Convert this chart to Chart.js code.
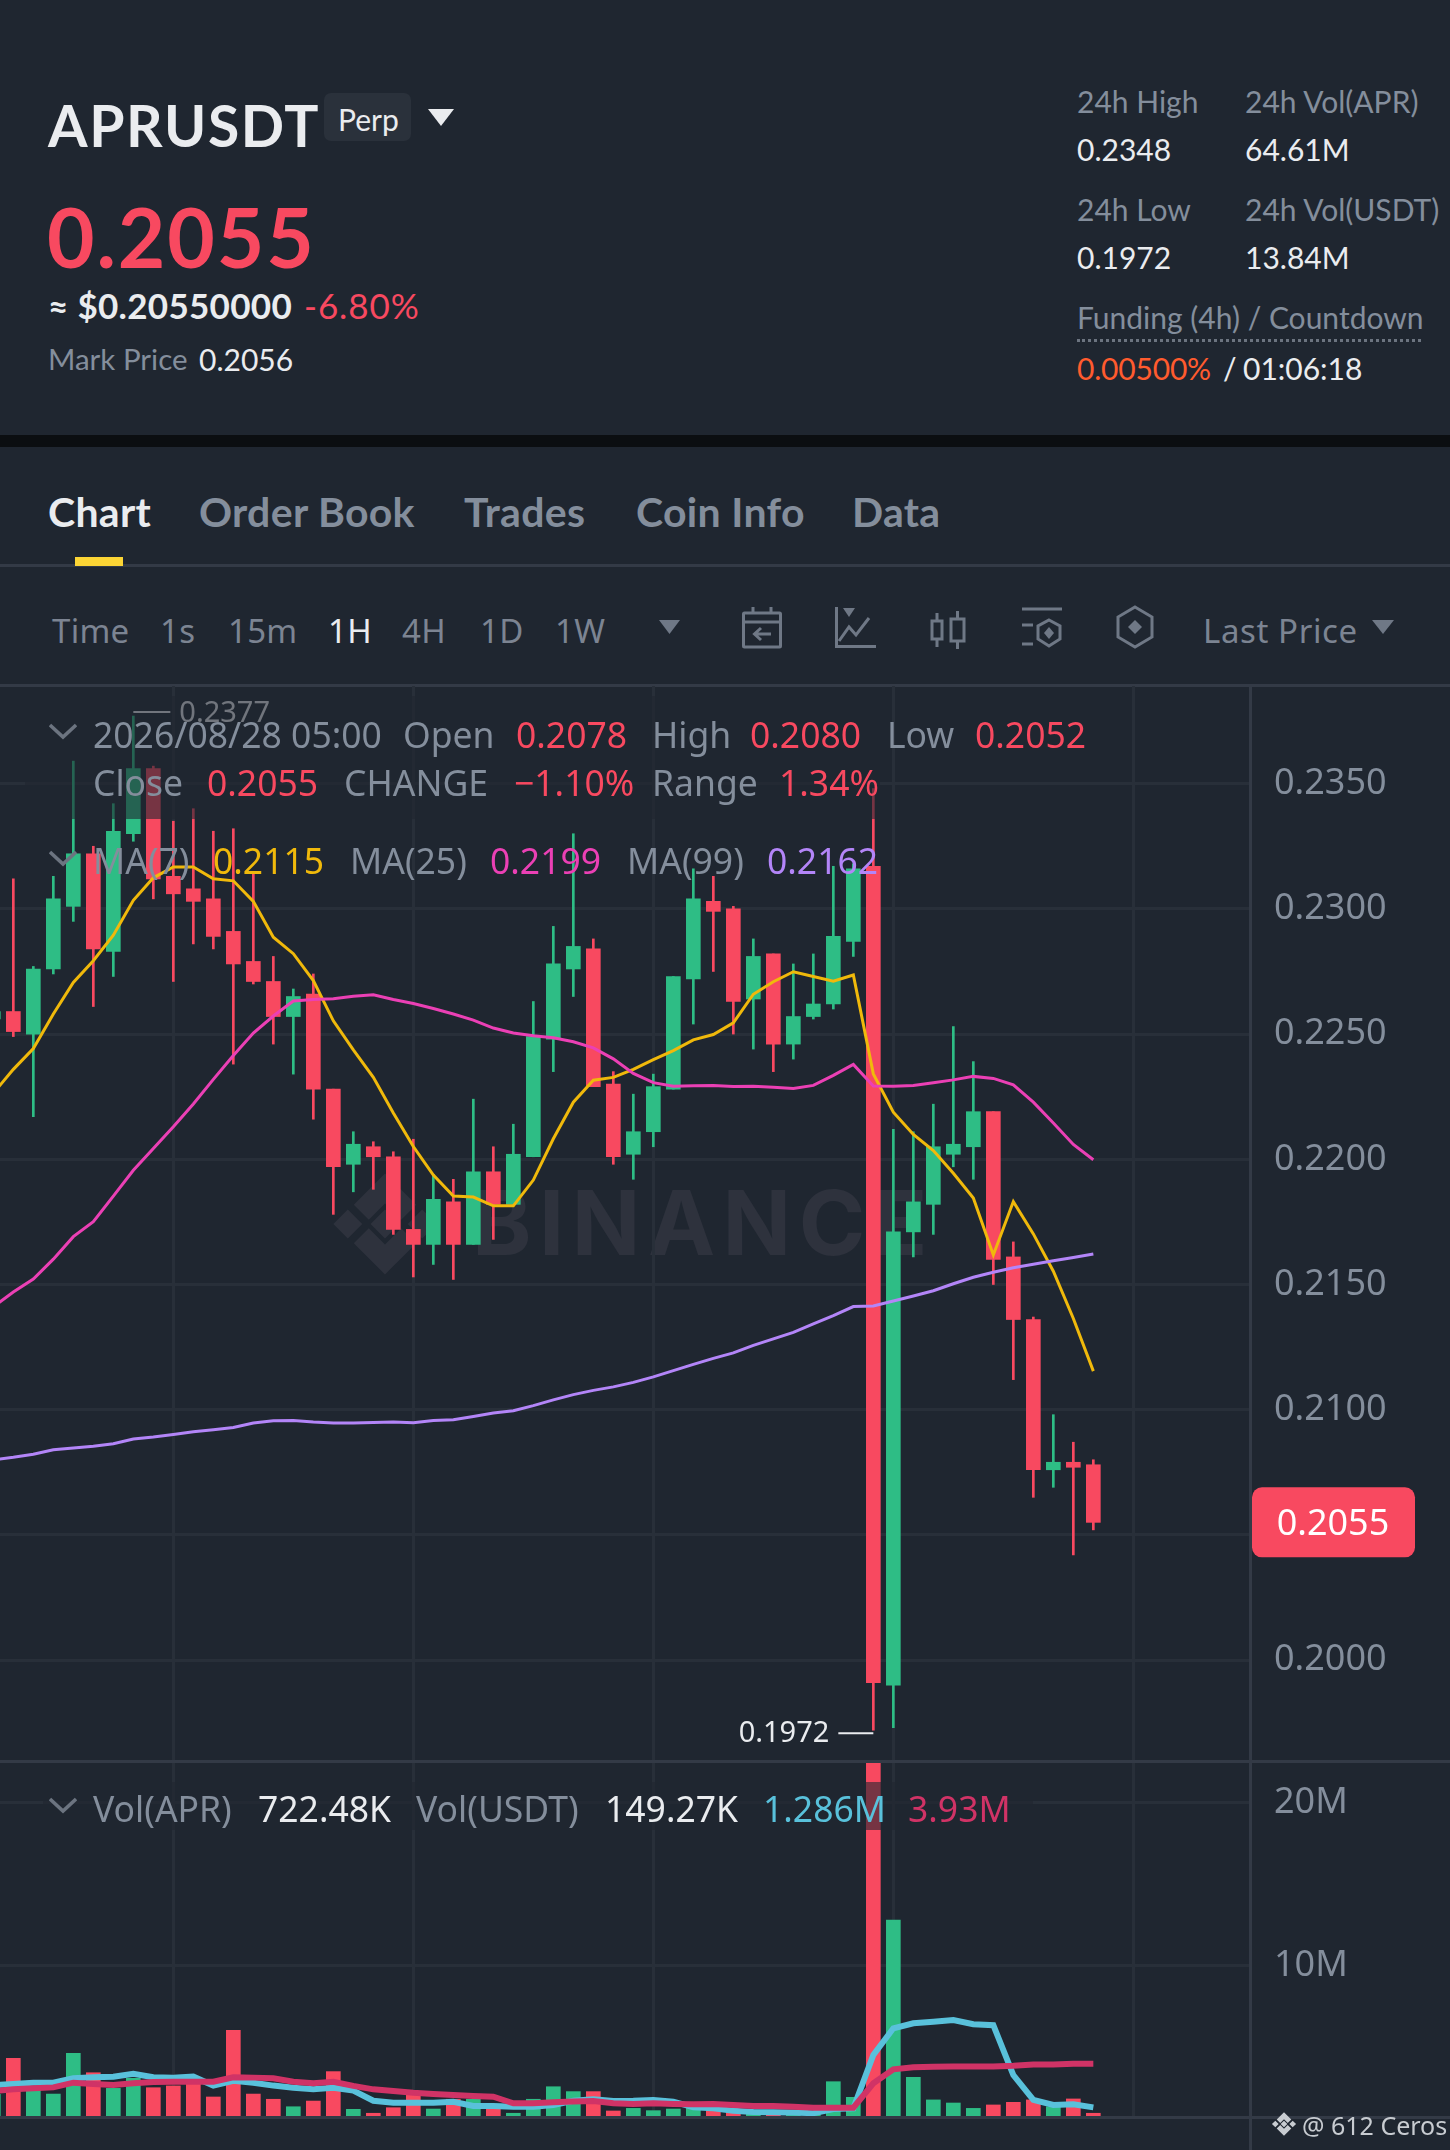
<!DOCTYPE html>
<html>
<head>
<meta charset="utf-8">
<title>APRUSDT Perp</title>
<script src="https://cdn.jsdelivr.net/npm/chart.js@4"></script>
<style>
  html, body { margin: 0; padding: 0; background: #1f2630; }
  #page { position: relative; width: 1450px; height: 2150px; overflow: hidden; background: #1f2630; font-family: "Noto Sans", sans-serif; color: #848e9c; }
  #page > * { position: absolute; }
  canvas { display: block; left: 0; }
  .t { transform: translateY(-50%); white-space: nowrap; line-height: 1; }
  .hd { font-family: Lato, sans-serif; }
  .bar { left: 0; width: 1450px; background: #333a46; }
  .tb { font-size: 33px; top: 630px; color: #7c8492; letter-spacing: 0.3px; }
  .tab { font-family: Lato, sans-serif; font-size: 41px; top: 511px; color: #848e9c; font-weight: 700; letter-spacing: 0.3px; }
  .lg { font-size: 35.5px; color: #848e9c; z-index: 5; }
  .sm { font-size: 30px; }
  .band { background: rgba(31, 38, 48, 0.6); z-index: 4; }
  .chev { z-index: 5; }
  .wm { color: #2e323d; }
  #page .w { color: #eaecef; }
  #page .r { color: #f84960; }
</style>
</head>
<body>
<div id="page">
  <!-- header -->
  <span class="t hd w" style="left:48px;top:125px;font-size:57px;font-weight:700;letter-spacing:1.6px">APRUSDT</span>
  <div style="left:324px;top:93px;width:87px;height:48px;background:#2a313b;border-radius:7px"></div>
  <span class="t hd w" style="left:338px;top:119px;font-size:30px">Perp</span>
  <svg style="left:428px;top:109px" width="26" height="17"><path d="M0 0H26L13 17Z" fill="#eaecef"/></svg>
  <span class="t hd r" style="left:47px;top:236px;font-size:82px;font-weight:700;letter-spacing:1.9px">0.2055</span>
  <span class="t hd w" style="left:48px;top:305px;font-size:35px;font-weight:700;letter-spacing:0.3px">≈ $0.20550000</span>
  <span class="t hd r" style="left:304px;top:305px;font-size:35px;letter-spacing:0.9px">-6.80%</span>
  <span class="t hd" style="left:48px;top:359px;font-size:29.500px">Mark Price</span>
  <span class="t hd w" style="left:199px;top:359px;font-size:30px">0.2056</span>

  <span class="t hd sm" style="left:1077px;top:101px">24h High</span>
  <span class="t hd sm w" style="left:1077px;top:149px">0.2348</span>
  <span class="t hd sm" style="left:1245px;top:101px">24h Vol(APR)</span>
  <span class="t hd sm w" style="left:1245px;top:149px">64.61M</span>
  <span class="t hd sm" style="left:1077px;top:209px">24h Low</span>
  <span class="t hd sm w" style="left:1077px;top:257px">0.1972</span>
  <span class="t hd sm" style="left:1245px;top:209px">24h Vol(USDT)</span>
  <span class="t hd sm w" style="left:1245px;top:257px">13.84M</span>
  <span class="t hd sm" style="left:1077px;top:317px">Funding (4h) / Countdown</span>
  <div style="left:1077px;top:339px;width:344px;border-top:3px dotted #6c7480"></div>
  <span class="t hd sm" style="left:1077px;top:368px;color:#ff5b2e;letter-spacing:-0.2px">0.00500%</span>
  <span class="t hd sm w" style="left:1223px;top:368px">/</span>
  <span class="t hd sm w" style="left:1243px;top:368px">01:06:18</span>

  <div style="left:0;top:435px;width:1450px;height:12px;background:#0b0e11"></div>

  <!-- tabs -->
  <span class="t tab w" style="left:48px">Chart</span>
  <span class="t tab" style="left:199px">Order Book</span>
  <span class="t tab" style="left:464px">Trades</span>
  <span class="t tab" style="left:636px">Coin Info</span>
  <span class="t tab" style="left:852px">Data</span>
  <div style="left:75px;top:557px;width:48px;height:9px;background:#fcd535;z-index:2"></div>
  <div class="bar" style="top:564px;height:3px"></div>

  <!-- toolbar -->
  <span class="t tb" style="left:52px">Time</span>
  <span class="t tb" style="left:160px">1s</span>
  <span class="t tb" style="left:228px">15m</span>
  <span class="t tb w" style="left:328px">1H</span>
  <span class="t tb" style="left:402px">4H</span>
  <span class="t tb" style="left:480px">1D</span>
  <span class="t tb" style="left:555px">1W</span>
  <svg style="left:659px;top:620px" width="21" height="14"><path d="M0 0H21L10.500 14Z" fill="#6f7886"/></svg>
  <svg style="left:740px;top:605px" width="44" height="44" fill="none" stroke="#6f7886" stroke-width="3"><rect x="3.500" y="8" width="37" height="34" rx="1"/><path d="M3 17H41M13 2V8M31 2V8M31 29H15M21 23L14.500 29L21 35"/></svg>
  <svg style="left:833px;top:605px" width="44" height="44" fill="none" stroke="#6f7886" stroke-width="3"><path d="M3.500 2V41.500H43M6 36L16 22L23 30L36 13"/><path d="M10 3H22L16 12Z" fill="#6f7886" stroke="none"/></svg>
  <svg style="left:929px;top:610px" width="38" height="40" fill="none" stroke="#6f7886" stroke-width="3"><rect x="3" y="11" width="10" height="18"/><rect x="22" y="9" width="13" height="22"/><path d="M8 3V11M8 29V37M28.500 1V9M28.500 31V39"/></svg>
  <svg style="left:1020px;top:605px" width="44" height="44" fill="none" stroke="#6f7886" stroke-width="3"><path d="M2 4H42M2 20H13M2 39H13"/><path d="M29 15L40 21V34L29 41L18 34V21Z"/><path d="M29 22L34 28L29 34L24 28Z" fill="#6f7886" stroke="none"/></svg>
  <svg style="left:1113px;top:605px" width="44" height="44" fill="none" stroke="#6f7886" stroke-width="3"><path d="M22 2L39 12V32L22 42L5 32V12Z"/><path d="M22 15L29 22L22 29L15 22Z" fill="#6f7886" stroke="none"/></svg>
  <span class="t tb" style="left:1203px;letter-spacing:0.6px">Last Price</span>
  <svg style="left:1372px;top:620px" width="22" height="14"><path d="M0 0H22L11 14Z" fill="#6f7886"/></svg>
  <div class="bar" style="top:684px;height:3px"></div>

  <!-- watermark sits under the charts -->
  <svg class="wm" style="left:325px;top:1164px" width="120" height="120" viewBox="0 0 100 100" fill="#2e323d"><path d="M50 38L62 50L50 62L38 50ZM19 38L31 50L19 62L7 50ZM81 38L93 50L81 62L69 50ZM24 34L50 8L76 34L63.500 46.500L50 33L36.500 46.500ZM24 66L50 92L76 66L63.500 53.500L50 67L36.500 53.500Z"/></svg>
  <span class="t wm" style="left:472px;top:1223px;font-family:Inter,sans-serif;font-weight:700;font-size:90px;letter-spacing:7.5px">BINANCE</span>

  <canvas id="priceChart" width="1450" height="1075" style="top:686px"></canvas>
  <canvas id="volChart" width="1450" height="356" style="top:1761px"></canvas>

  <div class="bar" style="top:1760px;height:3px;z-index:3"></div>
  <div class="bar" style="top:2116px;height:3px;z-index:3"></div>
  <div style="left:1249px;top:686px;width:3px;height:1464px;background:#333a46;z-index:3"></div>

  <!-- legend rows -->
  <div class="band" style="left:25px;top:696px;width:855px;height:123px"></div>
  <div class="band" style="left:43px;top:1782px;width:990px;height:48px"></div>

  <svg class="chev" style="left:49px;top:723px" width="28" height="17" fill="none" stroke="#6c7480" stroke-width="3.500"><path d="M1 2L14 14L27 2"/></svg>
  <span class="t lg" style="left:93px;top:735px">2026/08/28 05:00</span>
  <span class="t lg" style="left:403px;top:735px">Open</span>
  <span class="t lg r" style="left:516px;top:735px">0.2078</span>
  <span class="t lg" style="left:652px;top:735px">High</span>
  <span class="t lg r" style="left:750px;top:735px">0.2080</span>
  <span class="t lg" style="left:887px;top:735px">Low</span>
  <span class="t lg r" style="left:975px;top:735px">0.2052</span>

  <span class="t lg" style="left:93px;top:783px">Close</span>
  <span class="t lg r" style="left:207px;top:783px">0.2055</span>
  <span class="t lg" style="left:344px;top:783px">CHANGE</span>
  <span class="t lg r" style="left:514px;top:783px">−1.10%</span>
  <span class="t lg" style="left:652px;top:783px">Range</span>
  <span class="t lg r" style="left:779px;top:783px">1.34%</span>

  <svg class="chev" style="left:49px;top:850px" width="28" height="17" fill="none" stroke="#6c7480" stroke-width="3.500"><path d="M1 2L14 14L27 2"/></svg>
  <span class="t lg" style="left:93px;top:861px">MA(7)</span>
  <span class="t lg" style="left:213px;top:861px;color:#f0b90b">0.2115</span>
  <span class="t lg" style="left:350px;top:861px">MA(25)</span>
  <span class="t lg" style="left:490px;top:861px;color:#eb40b5">0.2199</span>
  <span class="t lg" style="left:627px;top:861px">MA(99)</span>
  <span class="t lg" style="left:767px;top:861px;color:#b385f8">0.2162</span>

  <svg class="chev" style="left:49px;top:1797px" width="28" height="17" fill="none" stroke="#6c7480" stroke-width="3.500"><path d="M1 2L14 14L27 2"/></svg>
  <span class="t lg" style="left:93px;top:1809px">Vol(APR)</span>
  <span class="t lg w" style="left:258px;top:1809px">722.48K</span>
  <span class="t lg" style="left:416px;top:1809px">Vol(USDT)</span>
  <span class="t lg w" style="left:605px;top:1809px">149.27K</span>
  <span class="t lg" style="left:763px;top:1809px;color:#59c1db">1.286M</span>
  <span class="t lg" style="left:908px;top:1809px;color:#d03366">3.93M</span>

  <svg style="left:1270px;top:2110px;z-index:5" width="28" height="28" viewBox="0 0 100 100" fill="#c8ccd1"><path d="M50 38L62 50L50 62L38 50ZM19 38L31 50L19 62L7 50ZM81 38L93 50L81 62L69 50ZM24 34L50 8L76 34L63.500 46.500L50 33L36.500 46.500ZM24 66L50 92L76 66L63.500 53.500L50 67L36.500 53.500Z"/></svg>
  <span class="t" style="left:1302px;top:2125px;font-size:25px;color:#c8ccd1;z-index:5">@ 612 Ceros</span>
</div>

<script>
// hourly candles, first one sits just off the left edge
const opens = [0.2256, 0.2259, 0.2250, 0.2276, 0.2301, 0.2322, 0.2283, 0.2330, 0.2356, 0.2313, 0.2308, 0.2304, 0.2291, 0.2279, 0.2271, 0.2257, 0.2266, 0.2228, 0.2198, 0.2205, 0.2201, 0.2172, 0.2166, 0.2183, 0.2166, 0.2195, 0.2182, 0.2201, 0.2248, 0.2276, 0.2284, 0.2230, 0.2202, 0.2211, 0.2228, 0.2272, 0.2303, 0.2300, 0.2264, 0.2282, 0.2246, 0.2257, 0.2262, 0.2287, 0.2317, 0.1990, 0.2171, 0.2182, 0.2202, 0.2205, 0.2219, 0.2161, 0.2136, 0.2076, 0.2079, 0.2078];
const closes = [0.2259, 0.2251, 0.2276, 0.2304, 0.2322, 0.2284, 0.2331, 0.2356, 0.2312, 0.2306, 0.2303, 0.2289, 0.2278, 0.2271, 0.2257, 0.2265, 0.2228, 0.2197, 0.2206, 0.2201, 0.2172, 0.2166, 0.2184, 0.2166, 0.2195, 0.2182, 0.2202, 0.2249, 0.2278, 0.2285, 0.2229, 0.2201, 0.2211, 0.2229, 0.2273, 0.2304, 0.2299, 0.2263, 0.2281, 0.2246, 0.2257, 0.2262, 0.2289, 0.2316, 0.1991, 0.2171, 0.2183, 0.2205, 0.2206, 0.2219, 0.2160, 0.2136, 0.2076, 0.2079, 0.2077, 0.2055];
const highs = [0.2263, 0.2312, 0.2277, 0.2313, 0.2359, 0.2325, 0.2342, 0.2377, 0.2357, 0.2335, 0.2340, 0.2331, 0.2332, 0.2314, 0.2281, 0.2268, 0.2274, 0.2228, 0.2211, 0.2207, 0.2203, 0.2208, 0.2194, 0.2192, 0.2224, 0.2205, 0.2214, 0.2263, 0.2293, 0.2330, 0.2288, 0.2235, 0.2226, 0.2234, 0.2273, 0.2316, 0.2313, 0.2301, 0.2288, 0.2282, 0.2278, 0.2282, 0.2317, 0.2318, 0.2348, 0.2212, 0.2211, 0.2222, 0.2253, 0.2239, 0.2219, 0.2167, 0.2137, 0.2098, 0.2087, 0.2080];
const lows = [0.2250, 0.2249, 0.2217, 0.2274, 0.2295, 0.2261, 0.2273, 0.2327, 0.2304, 0.2271, 0.2286, 0.2284, 0.2238, 0.2270, 0.2246, 0.2234, 0.2216, 0.2178, 0.2187, 0.2188, 0.2170, 0.2153, 0.2158, 0.2152, 0.2166, 0.2168, 0.2182, 0.2201, 0.2235, 0.2265, 0.2229, 0.2198, 0.2192, 0.2205, 0.2228, 0.2254, 0.2275, 0.2250, 0.2244, 0.2235, 0.2240, 0.2256, 0.2260, 0.2281, 0.1972, 0.1973, 0.2161, 0.2170, 0.2197, 0.2192, 0.2150, 0.2112, 0.2065, 0.2069, 0.2042, 0.2052];

const ma7 = [0.22264, 0.22359, 0.22442, 0.22580, 0.22706, 0.22793, 0.22895, 0.23034, 0.23124, 0.23167, 0.23167, 0.23120, 0.23112, 0.23030, 0.22887, 0.22821, 0.22714, 0.22553, 0.22437, 0.22327, 0.22185, 0.22051, 0.21937, 0.21853, 0.21849, 0.21814, 0.21814, 0.21917, 0.22082, 0.22228, 0.22316, 0.22327, 0.22359, 0.22398, 0.22434, 0.22477, 0.22498, 0.22545, 0.22659, 0.22709, 0.22749, 0.22730, 0.22711, 0.22736, 0.22341, 0.22188, 0.22099, 0.22035, 0.21944, 0.21845, 0.21618, 0.21831, 0.21702, 0.21553, 0.21364, 0.21154];
const ma25 = [0.21411, 0.21470, 0.21522, 0.21601, 0.21691, 0.21751, 0.21853, 0.21956, 0.22043, 0.22130, 0.22221, 0.22319, 0.22414, 0.22504, 0.22572, 0.22632, 0.22638, 0.22641, 0.22651, 0.22657, 0.22638, 0.22622, 0.22602, 0.22580, 0.22556, 0.22524, 0.22504, 0.22493, 0.22485, 0.22469, 0.22445, 0.22401, 0.22343, 0.22306, 0.22292, 0.22294, 0.22295, 0.22291, 0.22292, 0.22288, 0.22283, 0.22295, 0.22335, 0.22379, 0.22293, 0.22292, 0.22295, 0.22306, 0.22317, 0.22331, 0.22323, 0.22297, 0.22228, 0.22145, 0.22059, 0.21998];
const ma99 = [0.20800, 0.20810, 0.20822, 0.20840, 0.20847, 0.20854, 0.20864, 0.20883, 0.20891, 0.20901, 0.20912, 0.20920, 0.20929, 0.20947, 0.20956, 0.20957, 0.20951, 0.20947, 0.20947, 0.20949, 0.20951, 0.20948, 0.20957, 0.20960, 0.20973, 0.20987, 0.20996, 0.21016, 0.21039, 0.21060, 0.21077, 0.21091, 0.21109, 0.21131, 0.21156, 0.21181, 0.21205, 0.21227, 0.21257, 0.21283, 0.21309, 0.21343, 0.21376, 0.21412, 0.21414, 0.21434, 0.21454, 0.21475, 0.21503, 0.21529, 0.21549, 0.21567, 0.21581, 0.21595, 0.21608, 0.21622];

// volume in millions
const volumes = [2.10, 4.31, 2.46, 2.11, 4.61, 3.42, 2.46, 3.08, 2.50, 2.61, 2.97, 1.93, 6.03, 2.11, 1.79, 1.33, 1.68, 3.49, 1.17, 0.93, 1.27, 2.05, 1.19, 1.79, 1.79, 1.17, 0.93, 1.79, 2.56, 2.26, 2.26, 1.07, 1.23, 1.09, 1.19, 1.33, 1.12, 1.03, 0.93, 0.89, 0.87, 0.87, 2.87, 1.91, 30.2, 12.81, 3.14, 1.75, 1.56, 1.23, 1.44, 1.60, 1.75, 1.33, 1.81, 0.93];
const volMaShort = [2.65, 2.73, 2.81, 2.81, 3.08, 3.14, 3.18, 3.36, 3.14, 3.12, 3.18, 2.63, 2.93, 2.81, 2.63, 2.50, 2.40, 2.50, 2.32, 1.70, 1.58, 1.58, 1.58, 1.64, 1.38, 1.38, 1.33, 1.33, 1.44, 1.70, 1.79, 1.68, 1.70, 1.75, 1.64, 1.30, 1.23, 1.09, 1.01, 0.99, 0.97, 0.93, 1.19, 1.23, 4.51, 6.15, 6.46, 6.56, 6.66, 6.40, 6.34, 3.28, 1.75, 1.44, 1.48, 1.29];
const volMaLong = [2.30, 2.40, 2.46, 2.52, 2.81, 2.73, 2.67, 2.77, 2.85, 2.87, 2.87, 2.87, 3.14, 3.12, 3.08, 2.87, 2.77, 2.87, 2.61, 2.40, 2.30, 2.19, 2.11, 2.05, 1.99, 1.95, 1.54, 1.54, 1.60, 1.66, 1.68, 1.54, 1.50, 1.54, 1.50, 1.48, 1.50, 1.44, 1.38, 1.38, 1.33, 1.27, 1.27, 1.27, 2.77, 3.63, 3.76, 3.79, 3.81, 3.81, 3.81, 3.85, 3.92, 3.93, 3.98, 3.98];

const priceTicks = [0.2000, 0.2050, 0.2100, 0.2150, 0.2200, 0.2250, 0.2300, 0.2350];
const volTicks = [10, 20];
// a vertical grid line every 12 candles
const gridCandles = [9, 21, 33, 45, 57];

const GREEN = '#2ebd85';
const RED = '#f84960';
const GRID = '#282f39';
const TICK = '#848e9c';
const FONT = '"Noto Sans", sans-serif';

const candleColors = opens.map((o, i) => closes[i] >= o ? GREEN : RED);
const lastClose = closes[closes.length - 1];

function xScale() {
    return {
        type: 'linear',
        // candle 0 centres 6.67px left of the page, candles are 20px apart
        min: 1 / 3,
        max: 62.833,
        offset: false,
        afterBuildTicks: s => { s.ticks = gridCandles.map(v => ({ value: v })); },
        grid: { color: GRID, lineWidth: 3, offset: false, drawTicks: false },
        border: { display: false },
        ticks: { display: false }
    };
}

function yScale(min, max, tickValues, format) {
    return {
        position: 'right',
        min: min,
        max: max,
        afterBuildTicks: s => { s.ticks = tickValues.map(v => ({ value: v })); },
        // plot runs edge to edge, no room kept for half a tick label
        afterFit: s => { s.width = 200; s.paddingTop = 0; s.paddingBottom = 0; },
        grid: { color: GRID, lineWidth: 3, drawTicks: false },
        border: { display: false },
        ticks: { color: TICK, font: { family: FONT, size: 36 }, padding: 24, autoSkip: false, callback: format }
    };
}

function lineSet(values, color, width, order) {
    return {
        type: 'line',
        data: values.map((v, i) => ({ x: i, y: v })),
        borderColor: color,
        borderWidth: width,
        pointRadius: 0,
        tension: 0,
        order: order
    };
}

function rangeBars(lo, hi, thickness, order) {
    return {
        type: 'bar',
        data: lo.map((v, i) => ({ x: i, y: [v, hi[i]] })),
        backgroundColor: candleColors,
        barThickness: thickness,
        grouped: false,
        order: order
    };
}

// the high and low markers next to the wicks, and the last price tag
const pricePlugin = {
    id: 'priceMarks',
    afterDatasetsDraw(chart) {
        const { ctx, scales: { x, y } } = chart;
        const hiValue = Math.max(...highs);
        const loValue = Math.min(...lows);
        const hiX = x.getPixelForValue(highs.indexOf(hiValue));
        const loX = x.getPixelForValue(lows.indexOf(loValue));
        ctx.save();
        ctx.font = '29px ' + FONT;
        ctx.fillStyle = '#eaecef';
        ctx.strokeStyle = '#eaecef';
        ctx.lineWidth = 2;
        ctx.textBaseline = 'middle';
        ctx.textAlign = 'left';
        ctx.beginPath();
        ctx.moveTo(hiX, y.getPixelForValue(hiValue) - 4);
        ctx.lineTo(hiX + 37, y.getPixelForValue(hiValue) - 4);
        ctx.moveTo(loX - 35, y.getPixelForValue(loValue) + 3);
        ctx.lineTo(loX, y.getPixelForValue(loValue) + 3);
        ctx.stroke();
        ctx.fillText(hiValue.toFixed(4), hiX + 46, y.getPixelForValue(hiValue) - 2);
        ctx.textAlign = 'right';
        ctx.fillText(loValue.toFixed(4), loX - 44, y.getPixelForValue(loValue) + 4);
        ctx.restore();
    },
    afterDraw(chart) {
        const { ctx, scales: { y } } = chart;
        const py = y.getPixelForValue(lastClose);
        ctx.save();
        ctx.fillStyle = RED;
        ctx.beginPath();
        ctx.roundRect(1252, py - 35, 163, 70, 10);
        ctx.fill();
        ctx.fillStyle = '#ffffff';
        ctx.font = '36px ' + FONT;
        ctx.textAlign = 'center';
        ctx.textBaseline = 'middle';
        ctx.fillText(lastClose.toFixed(4), 1333, py + 2);
        ctx.restore();
    }
};

const baseOptions = {
    responsive: false,
    devicePixelRatio: 1,
    animation: false,
    layout: { padding: 0 },
    plugins: { legend: { display: false }, tooltip: { enabled: false } }
};

// the 0.2050 label is hidden behind the last price tag in the app
function lastTickUnderTag() {
    return priceTicks.reduce((a, b) => Math.abs(b - lastClose) < Math.abs(a - lastClose) ? b : a);
}

new Chart(document.getElementById('priceChart').getContext('2d'), {
    type: 'bar',
    data: {
        datasets: [
            lineSet(ma99, '#b385f8', 3, 0),
            lineSet(ma25, '#eb40b5', 3, 0),
            lineSet(ma7, '#f0b90b', 3, 0),
            rangeBars(opens, closes, 14, 1),
            rangeBars(lows, highs, 2, 2)
        ]
    },
    options: {
        ...baseOptions,
        scales: {
            x: xScale(),
            // y range set so the ticks land on the reference grid
            y: yScale(0.19597, 0.2389, priceTicks, v => v === lastTickUnderTag() ? '' : v.toFixed(4))
        }
    },
    plugins: [pricePlugin]
});

new Chart(document.getElementById('volChart').getContext('2d'), {
    type: 'bar',
    data: {
        datasets: [
            lineSet(volMaLong, '#d03366', 6, 0),
            lineSet(volMaShort, '#59c1db', 6, 1),
            {
                type: 'bar',
                data: volumes.map((v, i) => ({ x: i, y: v })),
                backgroundColor: candleColors,
                barThickness: 14,
                grouped: false,
                order: 2
            }
        ]
    },
    options: {
        ...baseOptions,
        scales: {
            x: xScale(),
            y: yScale(0.7, 22.58, volTicks, v => v + 'M')
        }
    }
});
</script>
</body>
</html>
